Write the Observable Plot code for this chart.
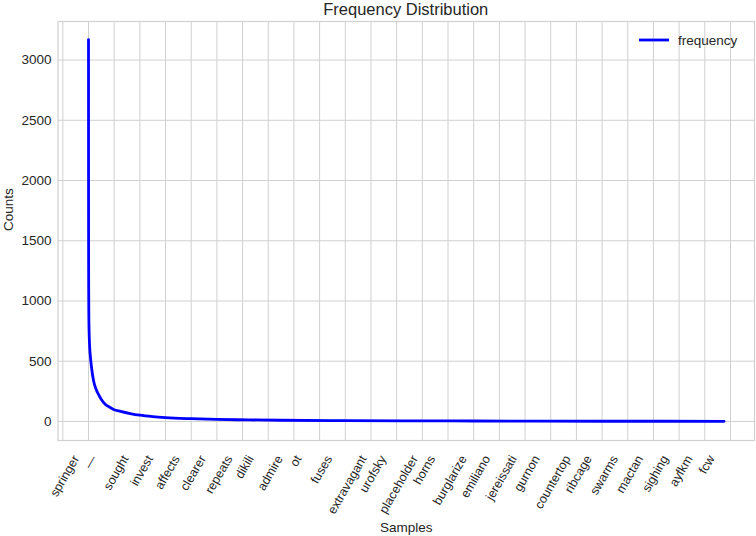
<!DOCTYPE html>
<html><head><meta charset="utf-8">
<script src="https://cdn.jsdelivr.net/npm/d3@7"></script>
<script src="https://cdn.jsdelivr.net/npm/@observablehq/plot@0.6"></script>
<style>
body{margin:0;background:#fff;font-family:"Liberation Sans",Arial,sans-serif;}
#wrap{position:relative;width:756px;height:536px;overflow:hidden;}
#title{margin-left:57.5px;width:696.5px;height:20px;line-height:18px;text-align:center;font-size:16.5px;color:#262626;}
#legend{position:absolute;left:638px;top:31px;height:18px;font-size:13.5px;color:#262626;display:flex;align-items:center;}
#legend span{margin-left:8px;}
</style></head><body>
<div id="wrap">
<div id="title">Frequency Distribution</div>
<div id="chart"></div>
<div id="legend"><svg width="32" height="18"><line x1="1" x2="31" y1="9" y2="9" stroke="#0000ff" stroke-width="2.8"/></svg><span>frequency</span></div>
</div>
<script>
// sample rank (position along the sorted sample list) and its count
const ranks  = [0, 1, 2, 3, 5, 8, 12, 20, 31, 47, 78, 120, 156, 200, 260, 330, 390, 500, 650, 800, 1000, 1200, 1600, 2000, 2500, 3000, 4000, 5000, 6000, 7000, 8000, 9000, 9900];
const counts = [3170, 1800, 1300, 1100, 900, 780, 700, 600, 530, 450, 340, 265, 224, 182, 143, 118, 100, 84, 66, 52, 40, 32, 23, 17, 13, 10, 7, 5, 4, 3, 2, 2, 1];

// x tick positions and their labels
const xTicks  = [-400, 0, 400, 800, 1200, 1600, 2000, 2400, 2800, 3200, 3600, 4000, 4400, 4800, 5200, 5600, 6000, 6400, 6800, 7200, 7600, 8000, 8400, 8800, 9200, 9600, 10000];
const xLabels = ["springer", "—", "sought", "invest", "affects", "clearer", "repeats", "dikili", "admire", "ot", "fuses", "extravagant", "urofsky", "placeholder", "horns", "burglarize", "emiliano", "jereissati", "gurnon", "countertop", "ribcage", "swarms", "mactan", "sighing", "ayfkm", "fcw", ""];
const yTicks  = [0, 500, 1000, 1500, 2000, 2500, 3000];

const data = ranks.map((r, i) => ({rank: r, count: counts[i]}));
const labelMap = new Map(xTicks.map((t, i) => [t, xLabels[i]]));
const grid = "#d0d0d0";
const font = '"Liberation Sans", Arial, sans-serif';

const plot = Plot.plot({
  width: 756, height: 516,
  marginLeft: 57.5, marginRight: 2, marginTop: 1, marginBottom: 96,
  style: {fontFamily: font, fontSize: "13px", color: "#262626", background: "#fff", overflow: "visible"},
  x: {domain: [-475, 10374]},
  y: {domain: [-158, 3320]},
  marks: [
    Plot.gridX(xTicks, {stroke: grid, strokeOpacity: 1, strokeWidth: 1}),
    Plot.gridY(yTicks, {stroke: grid, strokeOpacity: 1, strokeWidth: 1}),
    Plot.frame({stroke: grid, strokeWidth: 1.2}),
    Plot.axisY(yTicks, {tickSize: 0, tickPadding: 6.5, label: null, fontSize: 13.5, tickFormat: d => String(d)}),
    Plot.axisX(xTicks, {tickSize: 0, tickPadding: 5, tickRotate: -60, tickFormat: d => labelMap.get(d) ?? "", label: null, fontSize: 12.5}),
    Plot.line(data, {x: "rank", y: "count", stroke: "#0000ff", strokeWidth: 2.8, curve: "monotone-x"}),
    Plot.text(["Counts"], {frameAnchor: "left", dx: -49.5, rotate: -90, text: d => d, fontSize: 13.5, fill: "#262626"}),
    Plot.text(["Samples"], {frameAnchor: "bottom", dy: 91, text: d => d, fontSize: 13.5, fill: "#262626"})
  ]
});
document.getElementById("chart").appendChild(plot);

// centre rotated x tick labels under their ticks (matplotlib-like alignment)
d3.select(plot).selectAll('g[aria-label="x-axis tick label"] text').each(function() {
  const t = d3.select(this);
  const m = /translate\(([-\d.]+),\s*([-\d.]+)\)/.exec(t.attr("transform") || "");
  if (!m) return;
  const x = +m[1];
  const L = this.getComputedTextLength();
  t.attr("text-anchor", "end").attr("dy", null)
   .attr("transform", `translate(${x + 0.25 * L + 2},${431}) rotate(-60)`);
});
</script>
</body></html>
